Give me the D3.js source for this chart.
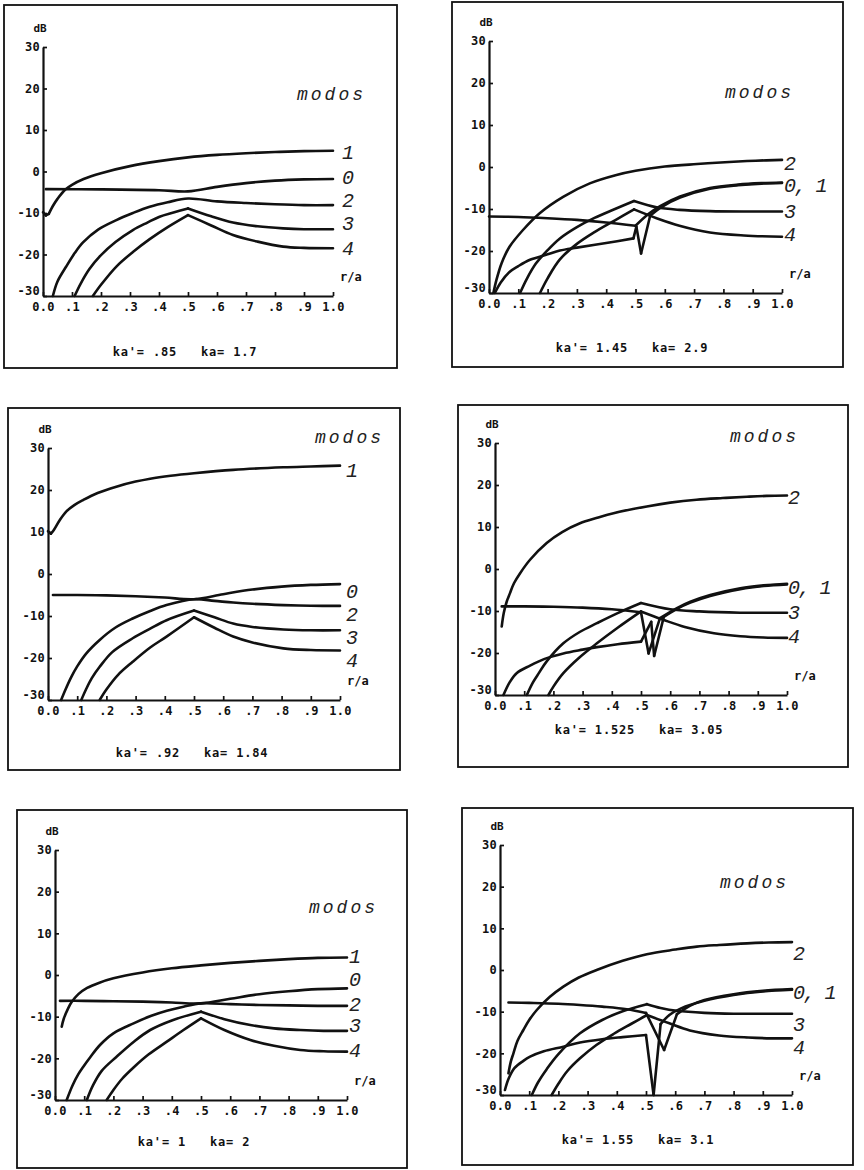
<!DOCTYPE html>
<html><head><meta charset="utf-8">
<script src="https://cdn.jsdelivr.net/npm/d3@7"></script>
<style>
html,body{margin:0;padding:0;background:#fff;}
svg{display:block;}
</style></head><body>
<svg id="c" width="864" height="1170"></svg>
<script>
// ---------- shared ticks ----------
const rTicks = [0, 0.1, 0.2, 0.3, 0.4, 0.5, 0.6, 0.7, 0.8, 0.9, 1.0];
const rTickLabels = ["0.0", ".1", ".2", ".3", ".4", ".5", ".6", ".7", ".8", ".9", "1.0"];
const dbTicks = [-30, -20, -10, 0, 10, 20, 30];

// ---------- panel 1 : ka'=.85 ka=1.7 ----------
const p1_m0 = [[0.01,-4.25],[0.2,-4.3],[0.4,-4.5],[0.5,-4.8],[0.6,-3.7],[0.7,-2.8],[0.8,-2.2],[0.9,-1.9],[1.0,-1.8]];
const p1_m1 = [[0,-9.8],[0.01,-10.6],[0.02,-10.2],[0.035,-8.2],[0.05,-6.6],[0.076,-4.4],[0.1,-3.2],[0.14,-1.8],[0.2,-0.4],[0.3,1.3],[0.4,2.5],[0.5,3.4],[0.6,4.0],[0.7,4.4],[0.8,4.7],[0.9,4.9],[1.0,5.0]];
const p1_m2 = [[0.034,-30],[0.05,-26.5],[0.08,-22.9],[0.11,-19.6],[0.138,-17.1],[0.19,-14],[0.253,-11.7],[0.31,-10],[0.368,-8.5],[0.43,-7.4],[0.5,-6.5],[0.6,-7.2],[0.7,-7.6],[0.8,-7.9],[0.9,-8.1],[1.0,-8.1]];
const p1_m3 = [[0.109,-30],[0.13,-27],[0.16,-23.5],[0.195,-20.5],[0.25,-17],[0.31,-14.1],[0.36,-12.3],[0.402,-10.9],[0.45,-9.9],[0.5,-8.9],[0.58,-10.8],[0.655,-12.3],[0.74,-13.2],[0.828,-13.7],[0.9,-13.9],[1.0,-13.9]];
const p1_m4 = [[0.172,-30],[0.2,-27.3],[0.253,-22.9],[0.31,-19.4],[0.368,-16.3],[0.43,-13.4],[0.5,-10.5],[0.58,-13],[0.655,-15.3],[0.74,-16.9],[0.828,-18.1],[0.9,-18.4],[1.0,-18.5]];
const p1_labels = ["1","0","2","3","4"];
const p1_labelDb = [4.7,-1.3,-6.9,-12.3,-18.3];
const p1_caption = "ka'= .85   ka= 1.7";

// ---------- panel 2 : ka'=1.45 ka=2.9 ----------
const p2_m0 = [[0,-11.8],[0.1,-11.9],[0.2,-12.2],[0.3,-12.6],[0.4,-13.2],[0.5,-14],[0.544,-11.2],[0.584,-9.3],[0.652,-7.0],[0.754,-5.0],[0.85,-4.2],[0.93,-3.85],[1.0,-3.7]];
const p2_m1 = [[0.02,-30],[0.04,-27.5],[0.07,-25],[0.1,-23.6],[0.14,-22.1],[0.2,-20.8],[0.242,-19.9],[0.3,-19.2],[0.4,-18.1],[0.493,-17],[0.503,-14.2],[0.519,-20.6],[0.55,-11.6],[0.59,-9.5],[0.652,-7.3],[0.754,-5.2],[0.85,-4.35],[0.93,-3.95],[1.0,-3.8]];
const p2_m2 = [[0.015,-30],[0.025,-27],[0.043,-22.9],[0.07,-19],[0.116,-15],[0.173,-11],[0.253,-7.1],[0.344,-3.9],[0.435,-1.9],[0.5,-0.9],[0.6,0.1],[0.71,0.7],[0.82,1.2],[0.91,1.5],[1.0,1.7]];
const p2_m3 = [[0.106,-30],[0.13,-26.5],[0.16,-23],[0.2,-19.8],[0.242,-17],[0.3,-14.3],[0.36,-12.1],[0.43,-10],[0.495,-8.1],[0.572,-9.6],[0.65,-10.2],[0.754,-10.5],[0.88,-10.6],[1.0,-10.6]];
const p2_m4 = [[0.174,-30],[0.2,-26.5],[0.242,-22],[0.3,-18.3],[0.36,-15.5],[0.43,-12.7],[0.495,-10.1],[0.572,-12.2],[0.65,-14],[0.754,-15.6],[0.87,-16.3],[1.0,-16.6]];
const p2_labels = ["2","0, 1","3","4"];
const p2_labelDb = [1.1,-4.3,-10.4,-15.8];
const p2_caption = "ka'= 1.45   ka= 2.9";

// ---------- panel 3 : ka'=.92 ka=1.84 ----------
const p3_m0 = [[0.017,-5.0],[0.1,-5.0],[0.2,-5.1],[0.3,-5.3],[0.4,-5.6],[0.5,-6.0],[0.6,-4.8],[0.7,-3.7],[0.8,-3.0],[0.9,-2.6],[1.0,-2.4]];
const p3_m1 = [[0,10.2],[0.01,9.6],[0.02,10.5],[0.04,12.8],[0.063,14.9],[0.09,16.4],[0.12,17.6],[0.17,19.3],[0.234,20.8],[0.3,22],[0.35,22.7],[0.42,23.4],[0.5,24],[0.634,24.8],[0.806,25.4],[0.9,25.6],[1.0,25.8]];
const p3_m2 = [[0.045,-30],[0.06,-27.5],[0.08,-24.5],[0.1,-22],[0.13,-19],[0.177,-15.7],[0.23,-12.8],[0.29,-10.6],[0.35,-8.8],[0.406,-7.4],[0.5,-6.0],[0.57,-6.4],[0.634,-6.8],[0.7,-7.1],[0.806,-7.4],[0.9,-7.55],[1.0,-7.6]];
const p3_m3 = [[0.114,-30],[0.13,-27.5],[0.15,-24.8],[0.177,-22.1],[0.22,-18.6],[0.29,-15.3],[0.35,-13],[0.406,-11],[0.5,-8.7],[0.57,-10.3],[0.634,-11.8],[0.7,-12.6],[0.806,-13.2],[0.9,-13.4],[1.0,-13.4]];
const p3_m4 = [[0.177,-30],[0.2,-27.5],[0.24,-24],[0.29,-20.9],[0.35,-17.5],[0.406,-14.9],[0.5,-10.3],[0.57,-12.8],[0.634,-14.9],[0.7,-16.3],[0.806,-17.7],[0.9,-18.1],[1.0,-18.2]];
const p3_labels = ["1","0","2","3","4"];
const p3_labelDb = [24.8,-4,-9.4,-15,-20.5];
const p3_caption = "ka'= .92   ka= 1.84";

// ---------- panel 4 : ka'=1.525 ka=3.05 ----------
const p4_m0 = [[0.023,-8.9],[0.1,-8.9],[0.2,-9.0],[0.3,-9.2],[0.4,-9.6],[0.5,-10.3],[0.526,-20.1],[0.565,-11.7],[0.623,-9.3],[0.669,-7.8],[0.737,-6.2],[0.84,-4.6],[0.92,-3.9],[1.0,-3.5]];
const p4_m1 = [[0.029,-30],[0.05,-27],[0.074,-24.8],[0.12,-23],[0.17,-21.4],[0.234,-20.1],[0.3,-19.2],[0.349,-18.6],[0.42,-17.9],[0.5,-17.3],[0.535,-12.6],[0.545,-20.7],[0.578,-11.4],[0.623,-9.5],[0.669,-8.0],[0.737,-6.4],[0.84,-4.8],[0.92,-4.05],[1.0,-3.65]];
const p4_m2 = [[0.023,-13.7],[0.03,-10.5],[0.04,-7.8],[0.051,-5.8],[0.065,-3.4],[0.086,-1.0],[0.12,2.2],[0.177,6.2],[0.23,8.8],[0.291,10.9],[0.35,12.2],[0.406,13.3],[0.52,14.9],[0.6,15.8],[0.69,16.5],[0.78,16.9],[0.863,17.2],[0.93,17.4],[1.0,17.5]];
const p4_m3 = [[0.109,-30],[0.13,-27],[0.15,-24.8],[0.177,-22.0],[0.234,-17.7],[0.29,-15],[0.349,-12.9],[0.42,-10.5],[0.5,-8.1],[0.6,-9.6],[0.7,-10.1],[0.84,-10.4],[1.0,-10.4]];
const p4_m4 = [[0.183,-30],[0.2,-28],[0.234,-24.8],[0.29,-21],[0.349,-17.7],[0.42,-14],[0.5,-10.1],[0.577,-12.1],[0.65,-13.8],[0.75,-15.3],[0.84,-16.0],[0.92,-16.3],[1.0,-16.4]];
const p4_labels = ["2","0, 1","3","4"];
const p4_labelDb = [17.3,-4.2,-10.1,-15.9];
const p4_caption = "ka'= 1.525   ka= 3.05";

// ---------- panel 5 : ka'=1 ka=2 ----------
const p5_m0 = [[0.017,-6.2],[0.1,-6.2],[0.2,-6.3],[0.3,-6.4],[0.4,-6.6],[0.5,-6.8],[0.6,-5.7],[0.7,-4.6],[0.8,-3.9],[0.9,-3.4],[1.0,-3.2]];
const p5_m1 = [[0.023,-12.4],[0.03,-10.5],[0.045,-8],[0.057,-6.5],[0.08,-4.6],[0.11,-3.1],[0.15,-1.9],[0.2,-0.8],[0.3,0.6],[0.4,1.6],[0.5,2.3],[0.6,2.9],[0.7,3.4],[0.8,3.8],[0.9,4.1],[1.0,4.2]];
const p5_m2 = [[0.04,-30],[0.06,-26.5],[0.08,-23.8],[0.097,-22],[0.12,-19.8],[0.154,-16.8],[0.2,-14],[0.269,-11.6],[0.33,-9.8],[0.383,-8.6],[0.44,-7.6],[0.5,-6.8],[0.6,-7.0],[0.7,-7.2],[0.8,-7.3],[0.9,-7.4],[1.0,-7.4]];
const p5_m3 = [[0.109,-30],[0.13,-26.5],[0.16,-23],[0.211,-19.6],[0.27,-16],[0.326,-13.2],[0.4,-10.9],[0.5,-8.8],[0.58,-10.6],[0.669,-12],[0.75,-12.8],[0.84,-13.2],[0.92,-13.4],[1.0,-13.4]];
const p5_m4 = [[0.177,-30],[0.2,-27.6],[0.23,-24.9],[0.269,-22.2],[0.32,-19.1],[0.383,-16.0],[0.44,-13.2],[0.5,-10.4],[0.58,-13.2],[0.669,-15.6],[0.75,-17],[0.84,-18],[0.92,-18.3],[1.0,-18.4]];
const p5_labels = ["1","0","2","3","4"];
const p5_labelDb = [4.6,-0.8,-6.8,-12,-18];
const p5_caption = "ka'= 1   ka= 2";

// ---------- panel 6 : ka'=1.55 ka=3.1 ----------
const p6_m0 = [[0.029,-7.8],[0.1,-7.9],[0.2,-8.1],[0.274,-8.4],[0.35,-8.8],[0.434,-9.4],[0.5,-10.3],[0.562,-19.2],[0.606,-10.6],[0.65,-8.6],[0.7,-7.2],[0.8,-5.8],[0.9,-5.0],[1.0,-4.6]];
const p6_m1 = [[0.017,-28.8],[0.03,-26],[0.05,-23.5],[0.08,-21.8],[0.103,-20.8],[0.15,-19.5],[0.217,-18.4],[0.274,-17.4],[0.35,-16.6],[0.42,-16.1],[0.5,-15.6],[0.526,-30],[0.55,-13],[0.58,-10.8],[0.62,-9.2],[0.7,-7.4],[0.8,-6.0],[0.9,-5.15],[1.0,-4.75]];
const p6_m2 = [[0.029,-24.8],[0.037,-22],[0.046,-20],[0.06,-17],[0.08,-14.4],[0.1,-12],[0.126,-9.6],[0.17,-6.5],[0.217,-4],[0.27,-1.8],[0.331,0],[0.42,2.2],[0.503,3.8],[0.6,4.9],[0.674,5.6],[0.75,6.0],[0.846,6.4],[0.92,6.6],[1.0,6.7]];
const p6_m3 = [[0.109,-30],[0.13,-27],[0.16,-23.8],[0.2,-20.2],[0.274,-15.2],[0.35,-12.0],[0.42,-9.9],[0.503,-8.2],[0.55,-9.1],[0.606,-9.8],[0.7,-10.3],[0.8,-10.5],[0.9,-10.5],[1.0,-10.5]];
const p6_m4 = [[0.177,-30],[0.2,-27.3],[0.23,-24.3],[0.274,-21.2],[0.33,-18],[0.39,-15.3],[0.45,-12.9],[0.503,-10.8],[0.58,-12.8],[0.65,-14.5],[0.75,-15.7],[0.85,-16.2],[0.93,-16.4],[1.0,-16.4]];
const p6_labels = ["2","0, 1","3","4"];
const p6_labelDb = [4.2,-5.2,-12.8,-18.4];
const p6_caption = "ka'= 1.55   ka= 3.1";

const legendTitle = "modos";
const yUnit = "dB";
const xUnit = "r/a";

// ---------- build table for drawing ----------
const panels = [
  {modes:[p1_m0,p1_m1,p1_m2,p1_m3,p1_m4], labels:p1_labels, labelDb:p1_labelDb, caption:p1_caption},
  {modes:[p2_m0,p2_m1,p2_m2,p2_m3,p2_m4], labels:p2_labels, labelDb:p2_labelDb, caption:p2_caption},
  {modes:[p3_m0,p3_m1,p3_m2,p3_m3,p3_m4], labels:p3_labels, labelDb:p3_labelDb, caption:p3_caption},
  {modes:[p4_m0,p4_m1,p4_m2,p4_m3,p4_m4], labels:p4_labels, labelDb:p4_labelDb, caption:p4_caption},
  {modes:[p5_m0,p5_m1,p5_m2,p5_m3,p5_m4], labels:p5_labels, labelDb:p5_labelDb, caption:p5_caption},
  {modes:[p6_m0,p6_m1,p6_m2,p6_m3,p6_m4], labels:p6_labels, labelDb:p6_labelDb, caption:p6_caption}
];

// layout (pixels): box [l,t,r,b], plot [x0,x1,yTop,yBot], caption centre, label offset, modos anchor
const layout = [
  {box:[4,5,397,368],   plot:[43,333,47,296],    cap:[185,352],  lab:9, modos:[366,95]},
  {box:[452,2,843,367], plot:[489,782,41,293],   cap:[632,348],  lab:2, modos:[794,93]},
  {box:[8,408,400,770], plot:[48,340,448,700],   cap:[192,753],  lab:6, modos:[384,438]},
  {box:[458,405,848,767], plot:[495,787,443,695], cap:[639,730], lab:1, modos:[799,437]},
  {box:[17,810,407,1168], plot:[55,347,850,1100], cap:[194,1142], lab:2, modos:[378,908]},
  {box:[462,808,853,1165], plot:[500,792,845,1095], cap:[638,1140], lab:1, modos:[789,883]}
];

const svg = d3.select("#c");
svg.append("rect").attr("width",864).attr("height",1170).attr("fill","#fff");

const MONO_B = "'DejaVu Sans Mono', monospace";
const TYPE_I = "'Liberation Mono', 'DejaVu Sans Mono', monospace";

function splitAtKinks(pts){
  const segs = [];
  let cur = [pts[0]];
  for (let i=1;i<pts.length;i++){
    cur.push(pts[i]);
    if (i < pts.length-1){
      const a1 = Math.atan2(pts[i][1]-pts[i-1][1], pts[i][0]-pts[i-1][0]);
      const a2 = Math.atan2(pts[i+1][1]-pts[i][1], pts[i+1][0]-pts[i][0]);
      let d = Math.abs(a2-a1)*180/Math.PI;
      if (d>180) d = 360-d;
      if (d > 30){ segs.push(cur); cur=[pts[i]]; }
    }
  }
  segs.push(cur);
  return segs;
}

panels.forEach((P, i) => {
  const L = layout[i];
  const g = svg.append("g");
  const [bx0,by0,bx1,by1] = L.box;
  g.append("rect").attr("x",bx0).attr("y",by0).attr("width",bx1-bx0).attr("height",by1-by0)
    .attr("fill","none").attr("stroke","#111").attr("stroke-width",1.8);

  const x = d3.scaleLinear().domain([0,1]).range([L.plot[0], L.plot[1]]);
  const y = d3.scaleLinear().domain([-30,30]).range([L.plot[3], L.plot[2]]);

  const ya = g.append("g").attr("transform",`translate(${L.plot[0]},0)`)
    .call(d3.axisLeft(y).tickValues(dbTicks).tickSize(-4).tickSizeOuter(0).tickPadding(3).tickFormat(d=>String(d)));
  const xa = g.append("g").attr("transform",`translate(0,${L.plot[3]})`)
    .call(d3.axisBottom(x).tickValues(rTicks).tickSize(-4).tickSizeOuter(0).tickPadding(6).tickFormat((d,k)=>rTickLabels[k]));
  [ya, xa].forEach(a => {
    a.attr("font-family", MONO_B).attr("font-size", 12).attr("font-weight","bold");
    a.select(".domain").attr("stroke","#111").attr("stroke-width",2.2);
    a.selectAll(".tick line").attr("stroke","#111").attr("stroke-width",1.7);
    a.selectAll(".tick text").attr("fill","#111").style("letter-spacing","0.3px");
  });
  // lift the lowest y label a little so it clears the 0.0 label (as in the original it sits just above)
  ya.selectAll(".tick").filter(d => d === -30).select("text").attr("dy","-0.1em");

  // unit labels
  g.append("text").attr("x", L.plot[0]-3).attr("y", L.plot[2]-19).attr("dy","0.35em")
    .attr("text-anchor","middle").attr("font-family",MONO_B).attr("font-weight","bold").attr("font-size",11)
    .attr("fill","#111").text(yUnit);
  g.append("text").attr("x", L.plot[1]+7).attr("y", L.plot[3]-19).attr("dy","0.35em")
    .attr("font-family",MONO_B).attr("font-weight","bold").attr("font-size",12)
    .attr("fill","#111").text(xUnit);

  // curves
  const line = d3.line().x(d=>d[0]).y(d=>d[1]).curve(d3.curveCatmullRom.alpha(0.5));
  P.modes.forEach(m => {
    const pts = m.map(d => [x(d[0]), y(d[1])]);
    splitAtKinks(pts).forEach(seg => {
      g.append("path").attr("d", seg.length>2 ? line(seg) : d3.line()(seg))
        .attr("fill","none").attr("stroke","#111").attr("stroke-width",2.6)
        .attr("stroke-linejoin","round").attr("stroke-linecap","round");
    });
  });

  // mode labels
  P.labels.forEach((t,k) => {
    g.append("text").attr("x", L.plot[1]+L.lab).attr("y", y(P.labelDb[k])).attr("dy","0.36em")
      .attr("font-family",TYPE_I).attr("font-style","italic").attr("font-size",20)
      .style("letter-spacing","-1.5px").style("white-space","pre")
      .attr("fill","#222").text(t);
  });

  // legend title
  g.append("text").attr("x", L.modos[0]).attr("y", L.modos[1]).attr("dy","0.3em")
    .attr("text-anchor","end").attr("font-family",TYPE_I).attr("font-style","italic")
    .attr("font-size",18).style("letter-spacing","3px").attr("fill","#222").text(legendTitle);

  // caption
  g.append("text").attr("x", L.cap[0]).attr("y", L.cap[1]).attr("dy","0.35em")
    .attr("text-anchor","middle").attr("font-family",MONO_B).attr("font-weight","bold")
    .attr("font-size",12).style("letter-spacing","0.8px").style("white-space","pre")
    .attr("fill","#111").text(P.caption);
});
</script></body></html>
